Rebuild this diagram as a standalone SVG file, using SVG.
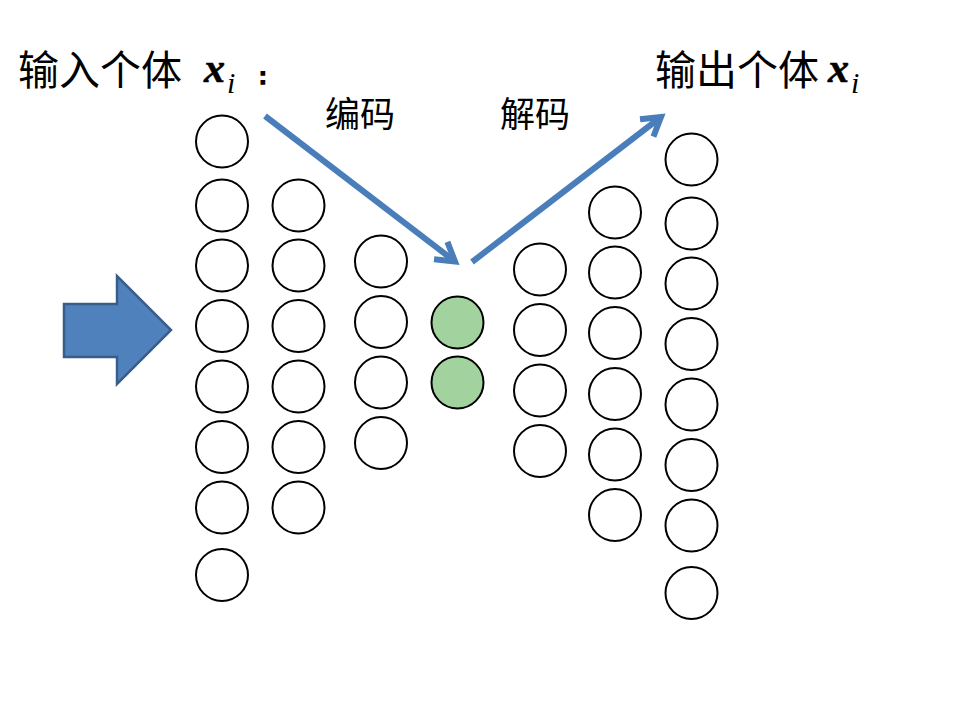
<svg xmlns="http://www.w3.org/2000/svg" width="960" height="720" viewBox="0 0 960 720">
<style>
.n{fill:#fff;stroke:#000;stroke-width:2}
.g{fill:#A2D39F;stroke:#000;stroke-width:2}
.cj{font-family:"Noto Sans CJK SC","Noto Sans",sans-serif;fill:#000}
.mx{font-family:"Liberation Serif","DejaVu Serif",serif;font-style:italic;fill:#000}
.ln{stroke:#4A7EBB;stroke-width:6;fill:none}
</style>
<defs>
<marker id="ah" markerUnits="userSpaceOnUse" viewBox="0 0 30 30" markerWidth="30" markerHeight="30" refX="24" refY="15" orient="auto">
<path d="M6,4 L24,15 L6,26" fill="none" stroke="#4A7EBB" stroke-width="6" stroke-linejoin="miter"/>
</marker>
</defs>
<rect width="960" height="720" fill="#fff"/>
<g id="title-in">
<text class="cj" x="18" y="85" font-size="41">输入个体</text>
<text class="mx" x="204" y="82" font-size="42" font-weight="bold" stroke="#000" stroke-width="0.6">x</text>
<text class="mx" x="227" y="93" font-size="30">i</text>
<text x="259" y="83.5" font-size="23" font-weight="bold" stroke="#000" stroke-width="1.4" font-family="Liberation Sans,Arial,sans-serif">:</text>
</g>
<g id="title-out">
<text class="cj" x="655" y="85" font-size="41">输出个体</text>
<text class="mx" x="828" y="82" font-size="42" font-weight="bold" stroke="#000" stroke-width="0.6">x</text>
<text class="mx" x="851" y="93" font-size="30">i</text>
</g>
<g id="label-enc"><text class="cj" x="325" y="127" font-size="35">编码</text></g>
<g id="label-dec"><text class="cj" x="500" y="127" font-size="35">解码</text></g>
<g id="input-arrow">
<polygon points="64,304 117,304 117,276 171,330 117,384 117,357 64,357" fill="#4F81BD" stroke="#385D8A" stroke-width="2.5"/>
</g>
<g id="connectors">
<line class="ln" x1="265" y1="116" x2="455" y2="261.5" marker-end="url(#ah)"/>
<line class="ln" x1="472" y1="262" x2="661" y2="117" marker-end="url(#ah)"/>
</g>
<g id="layer1">
<circle class="n" cx="222" cy="141.5" r="26"/>
<circle class="n" cx="222" cy="205.5" r="26"/>
<circle class="n" cx="222" cy="265.5" r="26"/>
<circle class="n" cx="222" cy="326" r="26"/>
<circle class="n" cx="222" cy="386.5" r="26"/>
<circle class="n" cx="222" cy="447" r="26"/>
<circle class="n" cx="222" cy="507.5" r="26"/>
<circle class="n" cx="222" cy="575" r="26"/>
</g>
<g id="layer2">
<circle class="n" cx="298.5" cy="205.5" r="26"/>
<circle class="n" cx="298.5" cy="265.5" r="26"/>
<circle class="n" cx="298.5" cy="326" r="26"/>
<circle class="n" cx="298.5" cy="386.5" r="26"/>
<circle class="n" cx="298.5" cy="447" r="26"/>
<circle class="n" cx="298.5" cy="507.5" r="26"/>
</g>
<g id="layer3">
<circle class="n" cx="381" cy="261.5" r="26"/>
<circle class="n" cx="381" cy="322" r="26"/>
<circle class="n" cx="381" cy="382.5" r="26"/>
<circle class="n" cx="381" cy="443" r="26"/>
</g>
<g id="code">
<circle class="g" cx="457.5" cy="322.5" r="26"/>
<circle class="g" cx="457.5" cy="382.5" r="26"/>
</g>
<g id="layer5">
<circle class="n" cx="540" cy="269.5" r="26"/>
<circle class="n" cx="540" cy="330" r="26"/>
<circle class="n" cx="540" cy="390.5" r="26"/>
<circle class="n" cx="540" cy="451" r="26"/>
</g>
<g id="layer6">
<circle class="n" cx="615" cy="212.5" r="26"/>
<circle class="n" cx="615" cy="272.5" r="26"/>
<circle class="n" cx="615" cy="333" r="26"/>
<circle class="n" cx="615" cy="394" r="26"/>
<circle class="n" cx="615" cy="454.5" r="26"/>
<circle class="n" cx="615" cy="515" r="26"/>
</g>
<g id="layer7">
<circle class="n" cx="691.5" cy="159.5" r="26"/>
<circle class="n" cx="691.5" cy="223.5" r="26"/>
<circle class="n" cx="691.5" cy="283.5" r="26"/>
<circle class="n" cx="691.5" cy="344" r="26"/>
<circle class="n" cx="691.5" cy="404.5" r="26"/>
<circle class="n" cx="691.5" cy="465" r="26"/>
<circle class="n" cx="691.5" cy="525.5" r="26"/>
<circle class="n" cx="691.5" cy="593" r="26"/>
</g>
</svg>
